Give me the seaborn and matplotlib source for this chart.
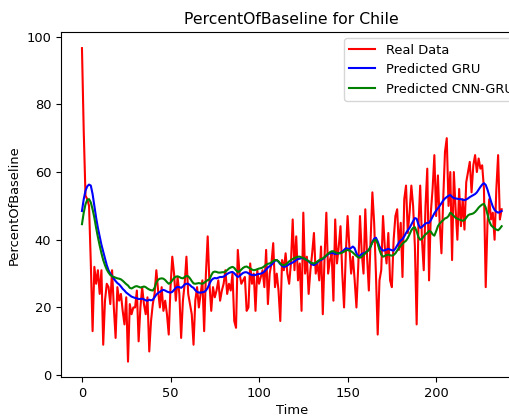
import numpy as np
import seaborn as sns
import matplotlib
matplotlib.use("Agg")
import matplotlib.pyplot as plt

real_data = [
    96.6, 72, 53, 52, 50, 33, 13, 32, 27, 31,
    24, 31, 9, 22, 27, 26, 21, 31, 20, 11,
    26, 22, 24, 19, 15, 23, 4, 21, 18, 20,
    20, 25, 10, 20, 26, 21, 18, 23, 7, 16,
    21, 24, 31, 25, 20, 26, 19, 22, 18, 12,
    26, 35, 30, 22, 29, 24, 11, 22, 27, 35,
    24, 21, 18, 9, 22, 26, 20, 24, 28, 13,
    30, 41, 27, 19, 26, 23, 25, 28, 22, 25,
    27, 31, 24, 27, 25, 30, 16, 14, 37, 30,
    27, 28, 29, 19, 20, 33, 27, 30, 19, 31,
    27, 29, 31, 26, 37, 21, 30, 33, 39, 26,
    30, 25, 16, 34, 31, 36, 30, 27, 33, 46,
    31, 41, 28, 33, 19, 48, 30, 35, 24, 31,
    36, 42, 30, 33, 28, 38, 18, 35, 48, 30,
    34, 36, 22, 46, 33, 38, 44, 30, 20, 36,
    47, 38, 30, 35, 28, 20, 32, 47, 36, 30,
    49, 35, 25, 40, 54, 45, 30, 12, 28, 31,
    47, 38, 33, 42, 28, 26, 40, 47, 49, 37,
    45, 29, 52, 56, 42, 48, 56, 50, 38, 15,
    44, 56, 40, 31, 50, 61, 28, 48, 55, 65,
    47, 59, 45, 36, 52, 66, 70, 50, 60, 34,
    60, 49, 40, 55, 44, 52, 43, 57, 60, 63,
    54, 62, 65, 60, 64, 61, 62, 55, 26, 45,
    52, 46, 48, 40, 55, 65, 46, 49,
]

pred_gru = [
    48.5, 52, 54.5, 55.8, 56.3, 56, 53.5, 50, 46.5, 43.5,
    41, 38.5, 36.5, 34.5, 32.5, 31, 30, 29.3, 28.5, 27.8,
    27.2, 26.8, 26.2, 25.5, 25, 24.4, 24, 23.6, 23.2, 23,
    22.8, 22.7, 22.5, 22.5, 22.6, 22.4, 22.1, 22, 22.3, 22.1,
    22.3, 23, 23.8, 24.3, 24.6, 25, 25.2, 25, 24.7, 24.5,
    24.4, 24.6, 25.2, 25.8, 26.1, 26, 25.8, 26.2, 26.8, 27,
    27, 26.6, 26.1, 25.8, 25.1, 24.6, 24.4, 24.4, 24.5, 24.6,
    25, 25.8, 27, 28, 28.5, 28.7, 28.6, 28.8, 29, 29,
    29.1, 29.5, 29.9, 30.2, 30.4, 30.5, 30.1, 29.5, 29, 29.3,
    29.8, 30.2, 30.4, 30.4, 30.1, 29.8, 29.6, 29.5, 29.6, 29.8,
    29.9, 30, 30.2, 30.6, 31.2, 31.8, 32.2, 32.6, 33.2, 33.8,
    34, 33.5, 32.8, 32.3, 32, 32.1, 32.4, 32.8, 33, 33.3,
    33.6, 34, 34.3, 34.4, 34.6, 34.5, 34.3, 34, 33.6, 33.1,
    32.7, 32.5, 32.8, 33.3, 33.8, 34, 34.3, 34.8, 35.3, 35.7,
    36, 36.1, 36, 35.8, 35.9, 36, 36.2, 36.5, 37, 37.5,
    37.4, 37.2, 37.6, 38, 37.5, 36, 35, 35.3, 35.8, 36,
    36.2, 36.6, 37, 38, 39.4, 40.3, 40.6, 39.5, 38, 37.2,
    36.8, 36.9, 37.1, 37.3, 37.1, 36.9, 36.8, 37.4, 38.3, 39.2,
    39.8, 40.2, 41, 42, 42.8, 43.5, 44.5, 45.5, 46.4, 46.2,
    44.5, 43.5, 43.8, 44.3, 44.8, 45, 45, 45.8, 46.8, 47.8,
    48.6, 49.3, 50, 50.8, 51.6, 52.2, 52.6, 53, 53.2, 52.7,
    52.3, 52.2, 52.1, 52, 52, 51.8, 51.7, 51.9, 52.2, 52.6,
    52.9, 53.2, 53.5, 54, 54.8, 55.6, 56.3, 56.7, 56.2, 54.8,
    53, 51.3, 49.8, 48.8, 48.3, 48, 48.2, 48.5,
]

pred_cnn_gru = [
    44.6, 48, 50.5, 51.8, 52, 51, 49, 46.5, 43.5, 40.8,
    38.3, 36, 34, 32.5, 31.2, 30.3, 29.6, 29.2, 29, 28.8,
    28.6, 28.5, 28.3, 27.9, 27.4, 26.9, 26.5, 25.8, 25.6, 25.9,
    26.2, 26.3, 26.1, 25.9, 26, 26.2, 26, 25.6, 25.3, 25.1,
    25, 25.8, 27.4, 28.2, 28.5, 28.6, 28.5, 28.1, 27.5, 27,
    27.3, 28, 28.7, 29.1, 29.2, 29, 28.7, 28.6, 29, 29.3,
    29.2, 28.6, 27.8, 27.1, 27, 27.1, 27.2, 27.1, 27, 27.3,
    27.7, 28.1, 28.3, 29.5, 30.4, 30.6, 30.5, 30.3, 30.3, 30.4,
    30.4, 30.6, 31, 31.5, 31.8, 32, 31.7, 31, 30.5, 30.7,
    31.2, 31.7, 32, 32.1, 31.8, 31.5, 31.2, 31, 31.1, 31.3,
    31.5, 31.6, 31.8, 32.2, 32.6, 32.9, 33, 33.3, 33.7, 34,
    34, 33.6, 33, 32.6, 32.5, 32.7, 33.1, 33.6, 34, 34.3,
    34.6, 34.8, 35, 35, 34.8, 34.6, 34.3, 34, 33.7, 33.3,
    33.1, 33, 33.2, 33.6, 34, 34.3, 34.5, 34.9, 35.4, 35.9,
    36.3, 36.6, 36.6, 36.3, 36.1, 36, 36, 36.2, 36.5, 36.8,
    37, 36.8, 36.6, 36.2, 35.7, 35.2, 34.8, 34.7, 35, 35.5,
    36, 36.5, 37, 38, 39.2, 39.8, 40, 38.8, 37, 35.6,
    35, 35.2, 35.5, 35.6, 35.4, 35.3, 35.5, 36, 36.8, 37.6,
    38.2, 38.8, 39.3, 39.7, 40.5, 41.6, 42.8, 43.5, 43.7, 42.5,
    40.8, 40, 40.3, 41, 41.6, 42, 42.6, 42.4, 41.6, 41.2,
    42.5, 44, 44.8, 45.3, 45.8, 46.3, 46.5, 47, 48, 47.6,
    47, 46.5, 46.2, 46, 45.8, 45.6, 45.8, 46.5, 47.2, 47.5,
    47.6, 47.8, 48.2, 48.8, 49.5, 50, 50.4, 50.6, 49.5, 47.5,
    45.5, 44.3, 43.8, 43.3, 43, 42.8, 43.3, 44,
]

time = np.arange(len(real_data))

# reference text is a touch smaller than matplotlib's 10pt default
plt.rcParams["font.size"] = 9.4

fig = plt.figure(figsize=(5.09, 4.16), dpi=100)
# the original was cropped on the right, so the axes run past the figure edge
ax = fig.add_axes([0.1198, 0.093, 0.907, 0.829])

sns.lineplot(x=time, y=real_data, color="red", label="Real Data", ax=ax)
sns.lineplot(x=time, y=pred_gru, color="blue", label="Predicted GRU", ax=ax)
sns.lineplot(x=time, y=pred_cnn_gru, color="green", label="Predicted CNN-GRU", ax=ax)

for spine in ax.spines.values():
    spine.set_visible(True)

ax.set_title("PercentOfBaseline for Chile")
ax.set_xlabel("Time", labelpad=3)
ax.set_ylabel("PercentOfBaseline")
ax.legend(loc="upper left", bbox_to_anchor=(0.613, 0.983), borderaxespad=0)

fig.savefig("out.png", dpi=100)
